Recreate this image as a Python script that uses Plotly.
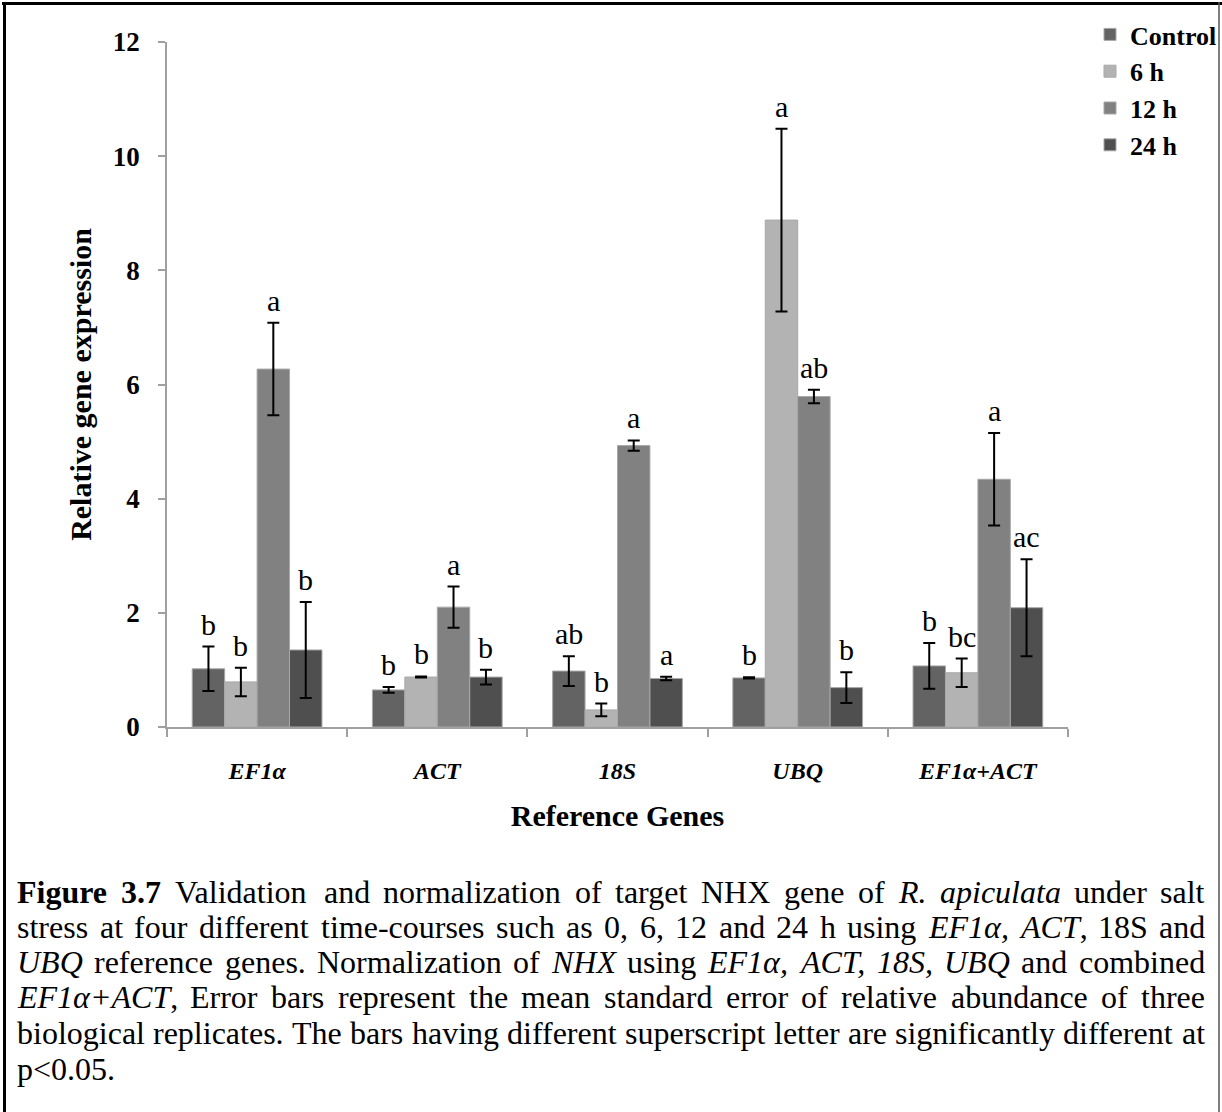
import plotly.graph_objects as go

# ---------------- data ----------------
categories = ["EF1α", "ACT", "18S", "UBQ", "EF1α+ACT"]
series_names = ["Control", "6 h", "12 h", "24 h"]

control = [1.02, 0.65, 0.98, 0.86, 1.07]
h6 = [0.79, 0.875, 0.30, 8.88, 0.95]
h12 = [6.27, 2.10, 4.93, 5.79, 4.34]
h24 = [1.35, 0.875, 0.85, 0.69, 2.09]

control_err = [0.39, 0.05, 0.26, 0.01, 0.40]
h6_err = [0.25, 0.01, 0.11, 1.60, 0.25]
h12_err = [0.81, 0.36, 0.09, 0.12, 0.81]
h24_err = [0.84, 0.13, 0.03, 0.27, 0.85]

control_letters = ["b", "b", "ab", "b", "b"]
h6_letters = ["b", "b", "b", "a", "bc"]
h12_letters = ["a", "a", "a", "ab", "a"]
h24_letters = ["b", "b", "a", "b", "ac"]

y_ticks = [0, 2, 4, 6, 8, 10, 12]

values = [control, h6, h12, h24]
errors = [control_err, h6_err, h12_err, h24_err]
letters = [control_letters, h6_letters, h12_letters, h24_letters]
colors = ["#636363", "#b3b3b3", "#818181", "#4f4f4f"]

# ---------------- layout geometry ----------------
W, H = 1222, 1112
L, R, T, B = 167, 1068, 42, 727  # plot area in pixels
BARGAP = 0.28
SERIF = "Liberation Serif, Times New Roman, serif"


def px_x(px):
    return (px - L) / (R - L)


def px_y(py):
    return (B - py) / (B - T)


fig = go.Figure()
for name, vals, errs, col in zip(series_names, values, errors, colors):
    fig.add_trace(go.Bar(
        name=name, x=categories, y=vals,
        marker=dict(color=col, line=dict(color="#a8a8a8", width=1)),
        error_y=dict(type="data", array=errs, visible=True,
                     color="black", thickness=2, width=6),
    ))

# significance letters above error bars
n_series = len(series_names)
bar_w = (1 - BARGAP) / n_series
annotations = []
for k in range(n_series):
    for i, cat in enumerate(categories):
        annotations.append(dict(
            x=i + (k - (n_series - 1) / 2) * bar_w, xref="x",
            y=values[k][i] + errors[k][i], yref="y",
            text=letters[k][i], showarrow=False,
            xanchor="center", yanchor="bottom", yshift=6,
            font=dict(family=SERIF, size=30, color="black"),
            borderpad=0, borderwidth=0,
        ))

# ---------------- caption (justified) ----------------
REG = {' ': 250, ',': 250, '.': 250, '-': 333, '<': 564, '+': 564, ':': 278,
       'A': 722, 'B': 667, 'C': 667, 'D': 722, 'E': 611, 'F': 556, 'G': 722, 'H': 722,
       'I': 333, 'J': 389, 'K': 722, 'L': 611, 'M': 889, 'N': 722, 'O': 722, 'P': 556,
       'Q': 722, 'R': 667, 'S': 556, 'T': 611, 'U': 722, 'V': 722, 'W': 944, 'X': 722,
       'Y': 722, 'Z': 611,
       'a': 444, 'b': 500, 'c': 444, 'd': 500, 'e': 444, 'f': 333, 'g': 500, 'h': 500,
       'i': 278, 'j': 278, 'k': 500, 'l': 278, 'm': 778, 'n': 500, 'o': 500, 'p': 500,
       'q': 500, 'r': 333, 's': 389, 't': 278, 'u': 500, 'v': 500, 'w': 722, 'x': 500,
       'y': 500, 'z': 444, 'α': 540}
ITA = {' ': 250, ',': 250, '.': 250, '-': 333, '+': 675,
       'A': 611, 'B': 611, 'C': 667, 'D': 722, 'E': 611, 'F': 611, 'G': 722, 'H': 722,
       'I': 333, 'N': 667, 'Q': 722, 'R': 611, 'S': 500, 'T': 556, 'U': 722, 'X': 611,
       'a': 500, 'c': 444, 'e': 444, 'i': 278, 'l': 278, 'p': 500, 't': 278, 'u': 500,
       'α': 520}
BLD = {'F': 611, 'i': 278, 'g': 500, 'u': 556, 'r': 444, 'e': 444, '.': 250}
TABLES = {"r": REG, "i": ITA, "b": BLD}


def seg_width(text, style):
    tab = TABLES[style]
    return sum(tab.get(ch, 500) for ch in text) / 1000.0


def word(*segs):
    return list(segs)


def plain(w):
    return [(w, "r")]


caption_lines = [
    [word(("Figure", "b")), word(("3.7", "b"))] + [plain(w) for w in
        "Validation and normalization of target NHX gene of".split()] +
    [word(("R.", "i")), word(("apiculata", "i")), plain("under"), plain("salt")],
    [plain(w) for w in
        "stress at four different time-courses such as 0, 6, 12 and 24 h using".split()] +
    [word(("EF1α,", "i")), word(("ACT", "i"), (",", "r")), plain("18S"), plain("and")],
    [word(("UBQ", "i")), plain("reference"), plain("genes."), plain("Normalization"),
     plain("of"), word(("NHX", "i")), plain("using"), word(("EF1α,", "i")),
     word(("ACT,", "i")), word(("18S,", "i")), word(("UBQ", "i")), plain("and"),
     plain("combined")],
    [word(("EF1α+ACT", "i"), (",", "r"))] + [plain(w) for w in
        "Error bars represent the mean standard error of relative abundance of three".split()],
    [plain(w) for w in
        "biological replicates. The bars having different superscript letter are significantly different at".split()],
]
last_line = "p&lt;0.05."

CAP_SIZE = 32
CAP_LEFT, CAP_RIGHT = 17, 1205
CAP_Y = [892, 927, 962, 997, 1033, 1069]


def markup(segs):
    out = ""
    for t, s in segs:
        if s == "i":
            out += "<i>" + t + "</i>"
        elif s == "b":
            out += "<b>" + t + "</b>"
        else:
            out += t
    return out


for li, words in enumerate(caption_lines):
    widths = [sum(seg_width(t, s) for t, s in w) * CAP_SIZE for w in words]
    gap = (CAP_RIGHT - CAP_LEFT - sum(widths)) / (len(words) - 1)
    xpos = CAP_LEFT
    for wi, w in enumerate(words):
        last = wi == len(words) - 1
        annotations.append(dict(
            x=px_x(CAP_RIGHT if last else xpos), xref="paper",
            y=px_y(CAP_Y[li]), yref="paper",
            text=markup(w), showarrow=False,
            xanchor="right" if last else "left", yanchor="middle",
            font=dict(family=SERIF, size=CAP_SIZE, color="black"),
            borderpad=0, borderwidth=0,
        ))
        xpos += widths[wi] + gap
annotations.append(dict(
    x=px_x(CAP_LEFT), xref="paper", y=px_y(CAP_Y[5]), yref="paper",
    text=last_line, showarrow=False, xanchor="left", yanchor="middle",
    font=dict(family=SERIF, size=CAP_SIZE, color="black"),
    borderpad=0, borderwidth=0,
))

axis_col = "#a0a0a0"
fig.update_layout(
    width=W, height=H,
    margin=dict(l=L, r=W - R, t=T, b=H - B, autoexpand=False),
    paper_bgcolor="white", plot_bgcolor="white",
    barmode="group", bargap=BARGAP, bargroupgap=0,
    font=dict(family=SERIF, color="black"),
    legend=dict(
        x=px_x(1090), y=px_y(11), xanchor="left", yanchor="top",
        font=dict(family=SERIF, size=26, weight="bold", color="black"),
        bgcolor="rgba(0,0,0,0)", itemwidth=30, tracegroupgap=0,
    ),
    xaxis=dict(
        showline=True, linecolor=axis_col, linewidth=1.5,
        ticks="outside", tickson="boundaries", ticklen=8, tickcolor=axis_col,
        tickwidth=1.5,
        tickfont=dict(family=SERIF, size=24, weight="bold", style="italic", color="black"),
        ticklabelstandoff=21,
        showgrid=False, zeroline=False,
        title=dict(text="Reference Genes", standoff=22,
                   font=dict(family=SERIF, size=30, weight="bold", color="black")),
    ),
    yaxis=dict(
        range=[0, 12], tickvals=y_ticks,
        showline=True, linecolor=axis_col, linewidth=1.5,
        ticks="outside", ticklen=7, tickcolor=axis_col, tickwidth=1.5,
        tickfont=dict(family=SERIF, size=27, weight="bold", color="black"),
        ticklabelstandoff=13,
        showgrid=False, zeroline=False,
        title=dict(text="Relative gene expression", standoff=12,
                   font=dict(family=SERIF, size=30, weight="bold", color="black")),
    ),
    annotations=annotations,
    shapes=[
        dict(type="line", xref="paper", yref="paper",
             x0=px_x(2), x1=px_x(1222), y0=px_y(3.5), y1=px_y(3.5),
             line=dict(color="black", width=3)),
        dict(type="line", xref="paper", yref="paper",
             x0=px_x(4.5), x1=px_x(4.5), y0=px_y(2), y1=px_y(1112),
             line=dict(color="black", width=3)),
        dict(type="line", xref="paper", yref="paper",
             x0=px_x(1219), x1=px_x(1219), y0=px_y(2), y1=px_y(1112),
             line=dict(color="#555555", width=1.5)),
    ],
)

fig.write_html("out.html")
